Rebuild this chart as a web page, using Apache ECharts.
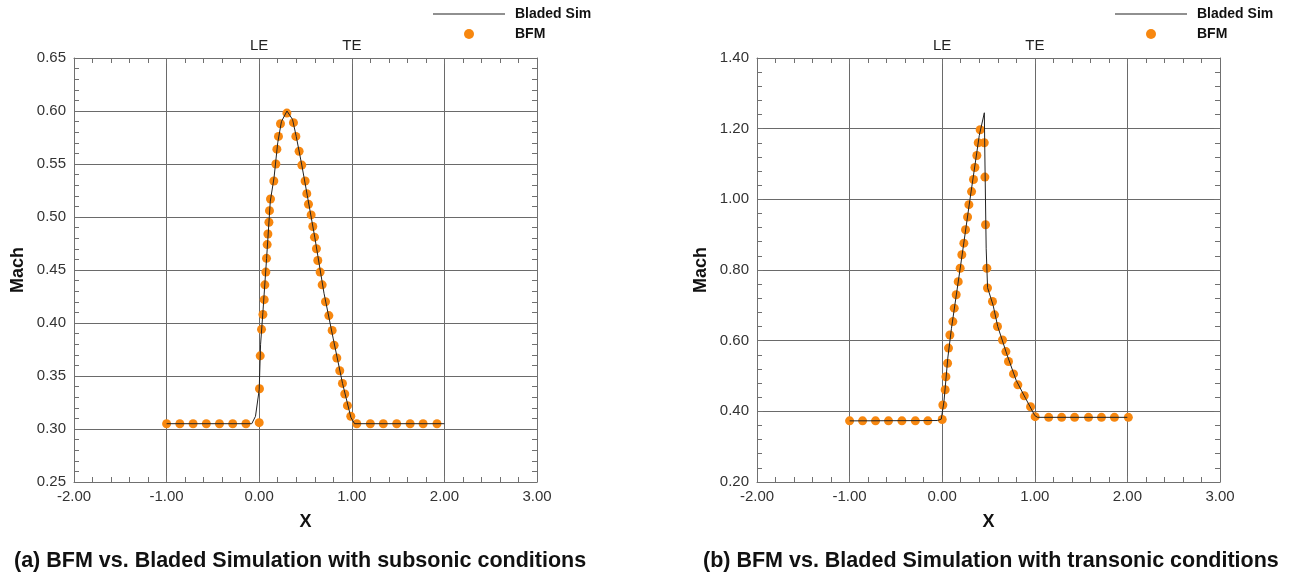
<!DOCTYPE html>
<html>
<head>
<meta charset="utf-8">
<script src="https://cdn.jsdelivr.net/npm/echarts@6/dist/echarts.min.js"></script>
<style>
  html, body { margin: 0; padding: 0; background: #fff; }
  #chart { width: 1304px; height: 583px; }
</style>
</head>
<body>
<div id="chart"></div>
<script>
// Mach number along the blade passage, x = 0 leading edge, x = 1 trailing edge
const xRange = [-2, 3];
const subMachRange = [0.25, 0.65];
const tranMachRange = [0.2, 1.4];
const edgeLabels = { 0: 'LE', 1: 'TE' };
const captions = [
  '(a) BFM vs. Bladed Simulation with subsonic conditions',
  '(b) BFM vs. Bladed Simulation with transonic conditions'
];

// (a) subsonic case: Bladed simulation line [x, Mach]
const bladedSubsonic = [
  [-1.0, 0.305], [-0.08, 0.305], [-0.04, 0.312], [0.0, 0.337], [0.015, 0.38],
  [0.04, 0.41], [0.08, 0.461], [0.12, 0.515], [0.16, 0.537], [0.2, 0.57],
  [0.24, 0.59], [0.3, 0.6], [0.36, 0.592], [0.4, 0.576], [0.46, 0.549],
  [0.52, 0.52], [0.6, 0.481], [0.7, 0.428], [0.8, 0.385], [0.9, 0.343],
  [0.99, 0.311], [1.03, 0.305], [2.0, 0.305]
];

// (a) subsonic case: body force model points [x, Mach]
const bfmSubsonic = [
  [-1.0, 0.305], [-0.857, 0.305], [-0.714, 0.305], [-0.571, 0.305], [-0.429, 0.305],
  [-0.286, 0.305], [-0.143, 0.305], [0.0, 0.306],
  [0.003, 0.338], [0.011, 0.369], [0.025, 0.394], [0.04, 0.408], [0.054, 0.422],
  [0.061, 0.436], [0.072, 0.448], [0.079, 0.461], [0.086, 0.474], [0.094, 0.484],
  [0.105, 0.495], [0.111, 0.506], [0.122, 0.517], [0.158, 0.534], [0.18, 0.55],
  [0.191, 0.564], [0.208, 0.576], [0.23, 0.588], [0.299, 0.598], [0.37, 0.589],
  [0.396, 0.576], [0.431, 0.562], [0.46, 0.549], [0.496, 0.534], [0.514, 0.522],
  [0.532, 0.512], [0.561, 0.502], [0.579, 0.491], [0.597, 0.481], [0.618, 0.47],
  [0.633, 0.459], [0.658, 0.448], [0.68, 0.436], [0.716, 0.42], [0.752, 0.407],
  [0.788, 0.393], [0.809, 0.379], [0.838, 0.367], [0.87, 0.355], [0.899, 0.343],
  [0.924, 0.333], [0.953, 0.322], [0.989, 0.312],
  [1.054, 0.305], [1.2, 0.305], [1.34, 0.305], [1.485, 0.305], [1.63, 0.305],
  [1.77, 0.305], [1.92, 0.305]
];

// (b) transonic case: Bladed simulation line [x, Mach]
const bladedTransonic = [
  [-1.0, 0.373], [-0.05, 0.374], [-0.01, 0.378], [0.02, 0.43], [0.06, 0.55],
  [0.1, 0.635], [0.2, 0.815], [0.3, 1.0], [0.4, 1.18], [0.455, 1.245],
  [0.462, 1.1], [0.475, 0.86], [0.49, 0.75], [0.55, 0.7], [0.6, 0.64],
  [0.7, 0.56], [0.8, 0.487], [0.9, 0.437], [1.0, 0.388], [1.03, 0.383],
  [2.0, 0.383]
];

// (b) transonic case: body force model points [x, Mach]
const bfmTransonic = [
  [-1.0, 0.373], [-0.86, 0.373], [-0.72, 0.373], [-0.58, 0.373], [-0.435, 0.373],
  [-0.29, 0.373], [-0.155, 0.373], [0.0, 0.377],
  [0.007, 0.418], [0.032, 0.461], [0.04, 0.498], [0.058, 0.536], [0.068, 0.579],
  [0.083, 0.616], [0.115, 0.654], [0.13, 0.692], [0.151, 0.73], [0.173, 0.767],
  [0.194, 0.805], [0.212, 0.843], [0.234, 0.876], [0.252, 0.914], [0.274, 0.95],
  [0.288, 0.985], [0.317, 1.022], [0.338, 1.056], [0.353, 1.09], [0.374, 1.124],
  [0.389, 1.16], [0.41, 1.197],
  [0.454, 1.16], [0.461, 1.063], [0.468, 0.928], [0.482, 0.805], [0.489, 0.749],
  [0.543, 0.711], [0.565, 0.673], [0.597, 0.64], [0.651, 0.602], [0.688, 0.569],
  [0.716, 0.541], [0.77, 0.506], [0.817, 0.475], [0.886, 0.444], [0.954, 0.413],
  [1.004, 0.385], [1.15, 0.383], [1.29, 0.383], [1.43, 0.383], [1.58, 0.383],
  [1.72, 0.383], [1.86, 0.383], [2.01, 0.383]
];

const FONT = '"Liberation Sans", Arial, sans-serif';
const LINE_COLOR = '#222222';
const DOT_COLOR = '#f7870f';
const GRID_COLOR = '#6a6a6a';
const FRAME_COLOR = '#707070';

const frameTicks = {
  axisLine: { show: true, onZero: false, lineStyle: { color: FRAME_COLOR, width: 1 } },
  axisTick: { show: true, inside: true, length: 6, lineStyle: { color: FRAME_COLOR } },
  minorTick: { show: true, splitNumber: 5, length: 5, lineStyle: { color: FRAME_COLOR } }
};

function bottomX(gridIndex) {
  return Object.assign({
    type: 'value', gridIndex, position: 'bottom',
    min: xRange[0], max: xRange[1], interval: 1,
    name: 'X', nameLocation: 'middle', nameGap: 31,
    nameTextStyle: { fontFamily: FONT, fontWeight: 'bold', fontSize: 18, color: '#111' },
    axisLabel: { margin: 7, fontFamily: FONT, fontSize: 15, color: '#333',
                 formatter: v => v.toFixed(2) },
    splitLine: { show: true, lineStyle: { color: GRID_COLOR, width: 1 } }
  }, frameTicks);
}

function topX(gridIndex) {
  return Object.assign({
    type: 'value', gridIndex, position: 'top',
    min: xRange[0], max: xRange[1], interval: 1,
    axisLabel: { margin: 5, fontFamily: FONT, fontSize: 15, color: '#222',
                 formatter: v => edgeLabels[v] || '' },
    splitLine: { show: false }
  }, frameTicks);
}

function leftY(gridIndex, range, step) {
  return Object.assign({
    type: 'value', gridIndex, position: 'left',
    min: range[0], max: range[1], interval: step,
    name: 'Mach', nameLocation: 'middle', nameGap: 47, nameRotate: 90,
    nameTextStyle: { fontFamily: FONT, fontWeight: 'bold', fontSize: 18, color: '#111' },
    axisLabel: { margin: 8, fontFamily: FONT, fontSize: 15, color: '#333',
                 formatter: v => v.toFixed(2) },
    splitLine: { show: true, lineStyle: { color: GRID_COLOR, width: 1 } }
  }, frameTicks);
}

function rightY(gridIndex, range, step) {
  return Object.assign({
    type: 'value', gridIndex, position: 'right',
    min: range[0], max: range[1], interval: step,
    axisLabel: { show: false },
    splitLine: { show: false }
  }, frameTicks);
}

function legendFor(left) {
  return {
    left, top: 2, orient: 'vertical', itemWidth: 72, itemHeight: 10, itemGap: 6,
    selectedMode: false,
    textStyle: { fontFamily: FONT, fontWeight: 'bold', fontSize: 14, color: '#111',
                 padding: [0, 0, 0, 5] },
    data: [
      { name: 'Bladed Sim', icon: 'path://M0,0H72V1H0Z', itemStyle: { color: LINE_COLOR } },
      { name: 'BFM', icon: 'circle', itemStyle: { color: DOT_COLOR } }
    ]
  };
}

function captionText(text, x) {
  return {
    type: 'text', left: x, top: 550,
    style: { text, fontFamily: FONT, fontWeight: 'bold', fontSize: 21.5, fill: '#111' }
  };
}

function pairSeries(axisIndex, lineData, dotData) {
  return [
    {
      name: 'BFM', type: 'scatter', xAxisIndex: axisIndex, yAxisIndex: axisIndex,
      data: dotData, symbol: 'circle', symbolSize: 9,
      itemStyle: { color: DOT_COLOR, opacity: 1 }, z: 2
    },
    {
      name: 'Bladed Sim', type: 'line', xAxisIndex: axisIndex, yAxisIndex: axisIndex,
      data: lineData, showSymbol: false, smooth: false,
      lineStyle: { color: LINE_COLOR, width: 1 }, itemStyle: { color: LINE_COLOR }, z: 3
    }
  ];
}

const chart = echarts.init(document.getElementById('chart'), null, { renderer: 'canvas' });
chart.setOption({
  animation: false,
  backgroundColor: '#ffffff',
  graphic: [captionText(captions[0], 14), captionText(captions[1], 703)],
  legend: [legendFor(428), legendFor(1110)],
  grid: [
    { left: 74, top: 58, width: 463, height: 424, containLabel: false },
    { left: 757, top: 58, width: 463, height: 424, containLabel: false }
  ],
  xAxis: [bottomX(0), topX(0), bottomX(1), topX(1)],
  yAxis: [
    leftY(0, subMachRange, 0.05), rightY(0, subMachRange, 0.05),
    leftY(1, tranMachRange, 0.2), rightY(1, tranMachRange, 0.2)
  ],
  series: [
    ...pairSeries(0, bladedSubsonic, bfmSubsonic),
    ...pairSeries(2, bladedTransonic, bfmTransonic)
  ]
});
</script>
</body>
</html>
